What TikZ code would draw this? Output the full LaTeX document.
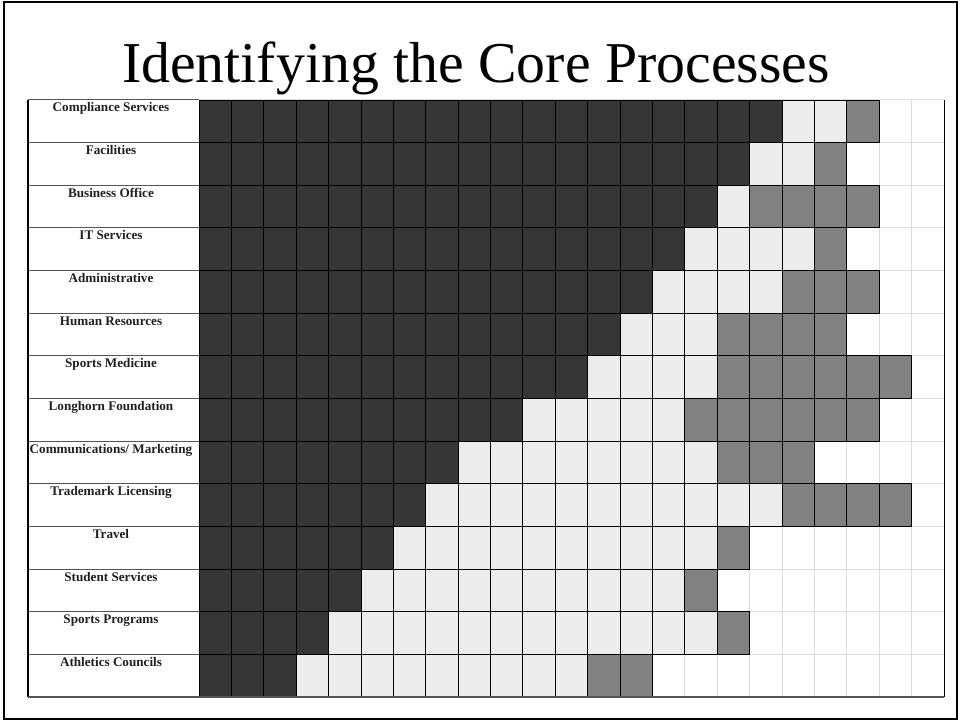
\documentclass[tikz,border=0pt]{standalone}
\usepackage{fontspec}
\setmainfont{Liberation Serif}
\definecolor{cdark}{HTML}{363636}
\definecolor{clight}{HTML}{ECECEC}
\definecolor{cmid}{HTML}{818181}
\definecolor{cgrid}{HTML}{DDDDDD}
\definecolor{crule}{HTML}{555555}
\definecolor{ctext}{HTML}{202020}
\tikzset{
  titletext/.style={font=\fontsize{58}{62}\selectfont, inner sep=0pt, anchor=base},
  labtext/.style={font=\fontsize{13.2}{15}\selectfont\bfseries, text=ctext, inner sep=0pt, anchor=base},
  cellbox/.style={draw=black, line width=0.9bp},
  gridline/.style={draw=cgrid, line width=0.9bp},
  rowrule/.style={draw=crule, line width=1bp},
  frame/.style={draw=black, line width=2bp}
}
\begin{document}
\begin{tikzpicture}[x=1bp,y=-1bp]
\useasboundingbox (0,0) rectangle (960,721);
\fill[white] (0,0) rectangle (960,721);
\draw[frame] (4,2) rectangle (957,719);
\node[titletext] (title) at (476,83) {Identifying the Core Processes};
\def\tx{199}\def\cw{32.3913}\def\rh{42.643}\def\ty{100}
% light grid for empty cells
\foreach \c in {1,...,22} \draw[gridline] (\tx+\c*\cw,\ty) -- (\tx+\c*\cw,697);
\foreach \r in {1,...,13} \draw[gridline] (\tx,\ty+\r*\rh) -- (944,\ty+\r*\rh);
% label column rules
\foreach \r in {0,...,14} \draw[rowrule] (28,\ty+\r*\rh) -- (\tx,\ty+\r*\rh);
\draw[draw=black, line width=1.2bp] (28,\ty) -- (28,697);
\draw[draw=cgrid, line width=1bp] (\tx,\ty) -- (944,\ty);
% rows
\foreach \d/\l/\m/\lab [count=\rr from 0] in {
  18/2/1/Compliance Services,
  17/2/1/Facilities,
  16/1/4/Business Office,
  15/4/1/IT Services,
  14/4/3/Administrative,
  13/3/4/Human Resources,
  12/4/6/Sports Medicine,
  10/5/6/Longhorn Foundation,
  8/8/3/Communications\slash\ Marketing,
  7/11/4/Trademark Licensing,
  6/10/1/Travel,
  5/10/1/Student Services,
  4/12/1/Sports Programs,
  3/9/2/Athletics Councils}{
  \pgfmathsetmacro\yy{\ty+\rr*\rh}
  \node[labtext] (L\rr) at (111,\yy+12) {\lab};
  \foreach \c in {0,...,22}{
    \pgfmathtruncatemacro\k{\c<\d ? 1 : (\c<\d+\l ? 2 : (\c<\d+\l+\m ? 3 : 0))}
    \ifnum\k>0
      \ifcase\k\or\def\cc{cdark}\or\def\cc{clight}\or\def\cc{cmid}\fi
      \filldraw[cellbox, fill=\cc] (\tx+\c*\cw,\yy) rectangle (\tx+\c*\cw+\cw,\yy+\rh);
    \fi
  }
}
% outer table borders
\draw[draw=black, line width=1bp] (944,\ty) -- (944,697);
\draw[draw=crule, line width=1.2bp] (28,697) -- (944,697);
\end{tikzpicture}
\end{document}
